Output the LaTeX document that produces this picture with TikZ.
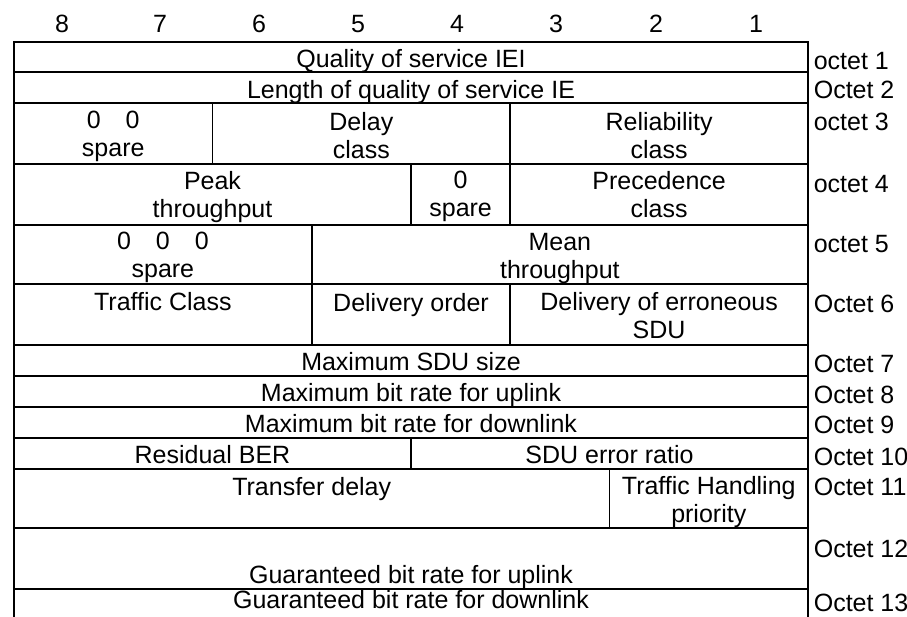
\documentclass[tikz,border=0pt]{standalone}
\usepackage{fontspec}
\setmainfont{Liberation Sans}
\usepackage{tikz}
\tikzset{%
    field/.style={anchor=north, inner sep=0pt, align=center, execute at begin node=\strut},
    octet/.style={anchor=base west, inner sep=0pt},
    bitnum/.style={anchor=base, inner sep=0pt}
}
\newcommand\QosField[7]{%
    \draw (#2,#4) rectangle (#3,#5);
    \node[field] (#1) at ({(#2+#3)/2},{#6-19.6}) {#7}
}

\begin{document}
\begin{tikzpicture}[x=1pt, y=-1pt, line width=1.6pt, font=\fontsize{25}{28}\selectfont]
      \useasboundingbox (0,0) rectangle (907,617);

      \node[bitnum] (bit8) at (62,33) {8};
      \node[bitnum] (bit7) at (160,33) {7};
      \node[bitnum] (bit6) at (259,33) {6};
      \node[bitnum] (bit5) at (358,33) {5};
      \node[bitnum] (bit4) at (457,33) {4};
      \node[bitnum] (bit3) at (556,33) {3};
      \node[bitnum] (bit2) at (656,33) {2};
      \node[bitnum] (bit1) at (756,33) {1};

      \QosField{iei}{14}{808}{42}{72}{67}{Quality of service IEI};
      \QosField{len}{14}{808}{72}{103}{98}{Length of quality of service IE};

      \QosField{spareA}{14}{212.5}{103}{164}{130}{0\quad0\\spare};
      \QosField{delay}{212.5}{510.25}{103}{164}{131}{Delay\\class};
      \QosField{reliab}{510.25}{808}{103}{164}{131}{Reliability\\class};

      \QosField{peak}{14}{411}{164}{225}{190}{Peak\\throughput};
      \QosField{spareB}{411}{510.25}{164}{225}{190}{0\\spare};
      \QosField{preced}{510.25}{808}{164}{225}{190}{Precedence\\class};

      \QosField{spareC}{14}{311.75}{225}{284}{251}{0\quad0\quad0\\spare};
      \QosField{mean}{311.75}{808}{225}{284}{252}{Mean\\throughput};

      \QosField{tclass}{14}{311.75}{284}{345}{310}{Traffic Class};
      \QosField{dorder}{311.75}{510.25}{284}{345}{311}{Delivery order};
      \QosField{derr}{510.25}{808}{284}{345}{311}{Delivery of erroneous\\SDU};

      \QosField{maxsdu}{14}{808}{345}{376}{370}{Maximum SDU size};
      \QosField{maxup}{14}{808}{376}{407}{401}{Maximum bit rate for uplink};
      \QosField{maxdown}{14}{808}{407}{438}{432}{Maximum bit rate for downlink};

      \QosField{resber}{14}{411}{438}{469}{463}{Residual BER};
      \QosField{sduerr}{411}{808}{438}{469}{463}{SDU error ratio};

      \QosField{tdelay}{14}{609.5}{469}{528}{495}{Transfer delay};
      \QosField{thp}{609.5}{808}{469}{528}{495}{Traffic Handling\\priority};

      \QosField{gbrup}{14}{808}{528}{589}{583}{Guaranteed bit rate for uplink};
      \QosField{gbrdown}{14}{808}{589}{625}{608}{Guaranteed bit rate for downlink};

      % octet numbers on the right
      \node[octet] (oct1) at (813,70) {octet 1};
      \node[octet] (oct2) at (813,99) {Octet 2};
      \node[octet] (oct3) at (813,131) {octet 3};
      \node[octet] (oct4) at (813,193) {octet 4};
      \node[octet] (oct5) at (813,253) {octet 5};
      \node[octet] (oct6) at (813,313) {Octet 6};
      \node[octet] (oct7) at (813,372) {Octet 7};
      \node[octet] (oct8) at (813,403) {Octet 8};
      \node[octet] (oct9) at (813,433) {Octet 9};
      \node[octet] (oct10) at (813,465) {Octet 10};
      \node[octet] (oct11) at (813,495) {Octet 11};
      \node[octet] (oct12) at (813,557) {Octet 12};
      \node[octet] (oct13) at (813,611) {Octet 13};
\end{tikzpicture}
\end{document}
